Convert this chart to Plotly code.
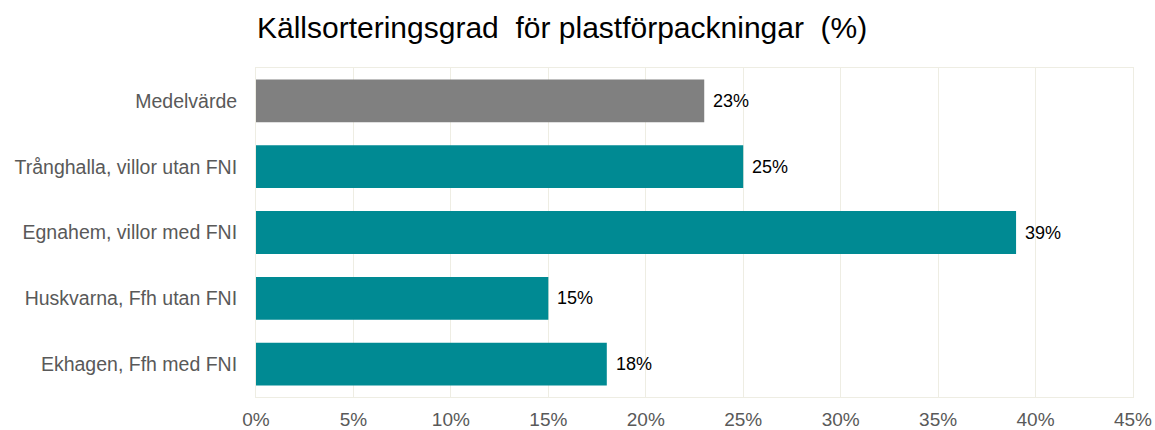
import plotly.graph_objects as go

# Sorting rate for plastic packaging per area (share, 0-1)
categories = [
    "Medelvärde",
    "Trånghalla, villor utan FNI",
    "Egnahem, villor med FNI",
    "Huskvarna, Ffh utan FNI",
    "Ekhagen, Ffh med FNI",
]
values = [0.23, 0.25, 0.39, 0.15, 0.18]
bar_colors = ["#808080", "#008A93", "#008A93", "#008A93", "#008A93"]
tick_values = [0, 0.05, 0.10, 0.15, 0.20, 0.25, 0.30, 0.35, 0.40, 0.45]
tick_labels = ["0%", "5%", "10%", "15%", "20%", "25%", "30%", "35%", "40%", "45%"]

grid_color = "#EEEDE3"
label_gray = "#595959"
font_family = "Liberation Sans, Arial, sans-serif"

fig = go.Figure(
    go.Bar(
        x=values,
        y=categories,
        orientation="h",
        marker=dict(color=bar_colors, line=dict(width=0)),
        width=0.65,
        hoverinfo="skip",
    )
)

# Value labels to the right of each bar
for cat, val in zip(categories, values):
    fig.add_annotation(
        x=val, y=cat, text=f"{round(val * 100)}%",
        showarrow=False, xanchor="left", xshift=7,
        font=dict(family=font_family, size=18, color="#000000"),
    )

fig.update_layout(
    width=1155,
    height=430,
    margin=dict(l=256, r=22, t=68, b=33, autoexpand=False),
    paper_bgcolor="white",
    plot_bgcolor="white",
    showlegend=False,
    title=dict(
        text="Källsorteringsgrad  för plastförpackningar  (%)",
        font=dict(family=font_family, size=30, color="#000000"),
        x=257 / 1155, xanchor="left", xref="container",
        y=1 - 27 / 430, yanchor="middle", yref="container",
    ),
    font=dict(family=font_family),
)

fig.update_xaxes(
    range=[0, 0.45],
    tickvals=tick_values,
    ticktext=tick_labels,
    showgrid=True,
    gridcolor=grid_color,
    gridwidth=1,
    zeroline=False,
    showline=True,
    linecolor=grid_color,
    linewidth=1,
    mirror=True,
    ticks="",
    tickfont=dict(size=19, color=label_gray),
    ticklabelstandoff=5,
    automargin=False,
)

fig.update_yaxes(
    categoryorder="array",
    categoryarray=categories[::-1],
    showgrid=False,
    showline=True,
    linecolor=grid_color,
    linewidth=1,
    mirror=True,
    ticks="",
    tickfont=dict(size=19.5, color=label_gray),
    ticklabelstandoff=14,
    automargin=False,
)

fig.write_html("out.html")
